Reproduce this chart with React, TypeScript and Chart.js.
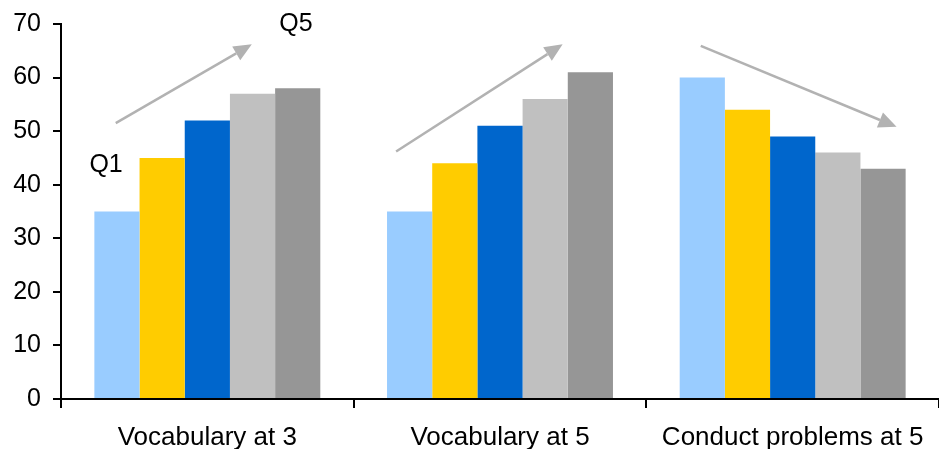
import React, { useEffect, useRef } from "react";
import { Chart, registerables } from "chart.js";

Chart.register(...registerables);

const categories = ["Vocabulary at 3", "Vocabulary at 5", "Conduct problems at 5"];
const seriesNames = ["Q1", "Q2", "Q3", "Q4", "Q5"];
const q1 = [35, 35, 60];
const q2 = [45, 44, 54];
const q3 = [52, 51, 49];
const q4 = [57, 56, 46];
const q5 = [58, 61, 43];
const seriesColors = ["#99CCFF", "#FFCC00", "#0066CC", "#C0C0C0", "#969696"];
const yTicks = [0, 10, 20, 30, 40, 50, 60, 70];

// arrows: [categoryIndex + offset, value] start -> end
const arrows = [
  { from: [-0.313, 51.5], to: [0.152, 66.2] },
  { from: [1 - 0.355, 46.2], to: [1 + 0.214, 66.2] },
  { from: [2 - 0.314, 65.9], to: [2 + 0.355, 50.8] },
];
const notes = [
  { text: "Q1", at: [-0.346, 43.6] },
  { text: "Q5", at: [0.303, 70.0] },
];

const FONT = "'Liberation Sans', Arial, sans-serif";

const annotPlugin = {
  id: "annot",
  afterDatasetsDraw(chart: any) {
    const { ctx, scales } = chart;
    const xs = scales.x;
    const ys = scales.y;
    const catW = (xs.right - xs.left) / categories.length;
    const px = (v: number) => xs.getPixelForValue(0) + v * catW;
    const py = (v: number) => ys.getPixelForValue(v);
    ctx.save();
    ctx.strokeStyle = "#B2B2B2";
    ctx.fillStyle = "#B2B2B2";
    ctx.lineWidth = 2.5;
    for (const a of arrows) {
      const x1 = px(a.from[0]);
      const y1 = py(a.from[1]);
      const x2 = px(a.to[0]);
      const y2 = py(a.to[1]);
      const ang = Math.atan2(y2 - y1, x2 - x1);
      const headLen = 18;
      const headW = 8;
      const bx = x2 - headLen * Math.cos(ang);
      const by = y2 - headLen * Math.sin(ang);
      ctx.beginPath();
      ctx.moveTo(x1, y1);
      ctx.lineTo(bx, by);
      ctx.stroke();
      ctx.beginPath();
      ctx.moveTo(x2, y2);
      ctx.lineTo(bx + headW * Math.sin(ang), by - headW * Math.cos(ang));
      ctx.lineTo(bx - headW * Math.sin(ang), by + headW * Math.cos(ang));
      ctx.closePath();
      ctx.fill();
    }
    ctx.fillStyle = "#000000";
    ctx.font = `25px ${FONT}`;
    ctx.textAlign = "center";
    ctx.textBaseline = "middle";
    for (const n of notes) {
      ctx.fillText(n.text, px(n.at[0]), py(n.at[1]));
    }
    ctx.restore();
  },
};

export default function App() {
  const ref = useRef<HTMLCanvasElement>(null);
  useEffect(() => {
    document.body.style.margin = "0";
    document.body.style.overflow = "hidden";
    const series = [q1, q2, q3, q4, q5];
    const chart = new Chart(ref.current!, {
      type: "bar",
      data: {
        labels: categories,
        datasets: series.map((d, i) => ({
          label: seriesNames[i],
          data: d,
          backgroundColor: seriesColors[i],
          borderWidth: 0,
          categoryPercentage: 0.772,
          barPercentage: 1,
        })),
      },
      options: {
        responsive: false,
        animation: false,
        layout: { padding: { top: 24, right: 0, left: 0, bottom: 0 } },
        plugins: {
          legend: { display: false },
          tooltip: { enabled: false },
        },
        scales: {
          x: {
            offset: true,
            grid: {
              offset: true,
              drawOnChartArea: false,
              drawTicks: true,
              tickLength: 9,
              color: "#000000",
              lineWidth: 2,
            },
            border: { color: "#000000", width: 2 },
            ticks: {
              color: "#000000",
              font: { family: FONT, size: 26 },
              padding: 14,
              maxRotation: 0,
              autoSkip: false,
            },
            afterFit(scale: any) {
              scale.height = 50;
              scale.paddingLeft = 0;
              scale.paddingRight = 0;
            },
          },
          y: {
            min: 0,
            max: 70,
            afterBuildTicks(scale: any) {
              scale.ticks = yTicks.map((v) => ({ value: v }));
            },
            grid: {
              drawOnChartArea: false,
              drawTicks: true,
              tickLength: 8,
              color: "#000000",
              lineWidth: 2,
            },
            border: { color: "#000000", width: 2 },
            ticks: {
              color: "#000000",
              font: { family: FONT, size: 25 },
              padding: 12,
            },
            afterFit(scale: any) {
              scale.width = 61;
              scale.paddingTop = 0;
              scale.paddingBottom = 0;
            },
          },
        },
      },
      plugins: [annotPlugin],
    });
    return () => chart.destroy();
  }, []);
  return (
    <div style={{ width: 939, height: 449 }}>
      <canvas ref={ref} width={939} height={449} style={{ display: "block" }} />
    </div>
  );
}
